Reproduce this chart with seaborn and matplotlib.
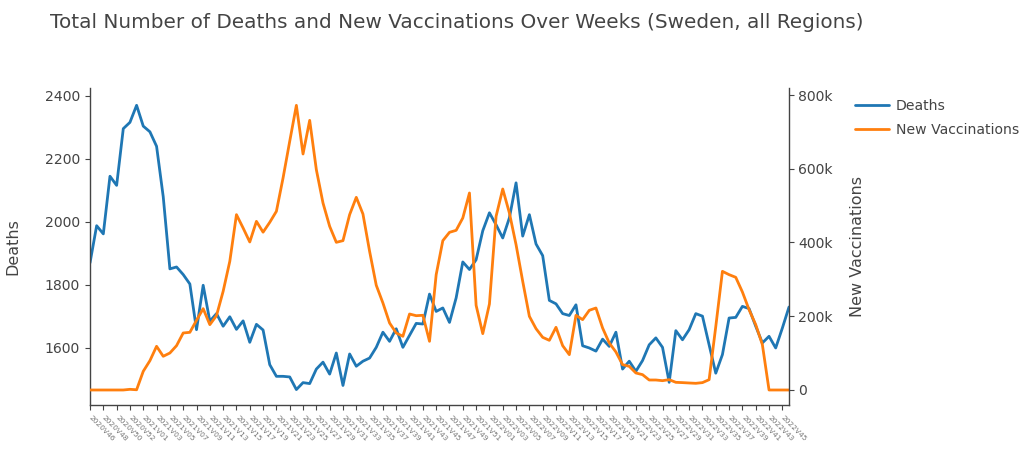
import matplotlib
matplotlib.use("Agg")
import matplotlib.pyplot as plt
import seaborn as sns
import pandas as pd
from matplotlib.ticker import FuncFormatter

# Week labels 2020V46 .. 2022V46 (2020 has week 53)
weeks = ([f"2020V{w:02d}" for w in range(46, 54)]
         + [f"2021V{w:02d}" for w in range(1, 53)]
         + [f"2022V{w:02d}" for w in range(1, 47)])

deaths = [1870, 1988, 1962, 2145, 2116, 2296, 2316, 2370, 2304, 2286,
          2240, 2080, 1851, 1857, 1833, 1803, 1658, 1799, 1685, 1709,
          1669, 1699, 1659, 1686, 1618, 1675, 1657, 1547, 1510, 1510,
          1508, 1468, 1490, 1487, 1533, 1555, 1517, 1584, 1481, 1581,
          1542, 1558, 1568, 1602, 1650, 1621, 1661, 1602, 1640, 1678,
          1676, 1771, 1716, 1727, 1681, 1759, 1873, 1849, 1880, 1972,
          2029, 1991, 1949, 2013, 2124, 1955, 2023, 1930, 1893, 1751,
          1740, 1709, 1703, 1737, 1607, 1600, 1590, 1628, 1605, 1650,
          1533, 1558, 1526, 1560, 1610, 1632, 1602, 1491, 1655, 1626,
          1658, 1709, 1701, 1610, 1520, 1579, 1695, 1697, 1732, 1725,
          1669, 1616, 1637, 1600, 1663, 1730]

vaccinations = [0, 0, 0, 0, 0, 0, 1800, 600, 50700, 79500,
                118500, 91400, 100300, 120200, 154600, 156400, 189000, 220600, 177200, 201600,
                267600, 349000, 475500, 439300, 401400, 457400, 428000, 454700, 484600, 575000,
                674400, 772000, 640000, 731300, 597500, 507100, 443900, 400500, 405000, 475500,
                522500, 477300, 376100, 284000, 236000, 181700, 154600, 145600, 206100, 201500,
                202600, 132000, 312700, 405000, 427600, 433000, 466500, 534300, 229600, 152800,
                233200, 471000, 545100, 480000, 394100, 294700, 199800, 166300, 142800, 134700,
                170000, 120200, 95800, 202500, 190800, 216100, 222400, 168100, 127500, 103100,
                68700, 64200, 46100, 41600, 27100, 27100, 25300, 28000, 20800, 20000,
                19000, 18100, 20000, 28000, 172000, 321800, 312800, 305600, 265800, 217900,
                177200, 123000, 0, 0, 0, 0]

df = pd.DataFrame({"week": weeks, "Deaths": deaths, "New Vaccinations": vaccinations})

sns.set_style("white")
plt.rcParams["font.family"] = ["DejaVu Sans"]
text_col = "#444444"

fig = plt.figure(figsize=(10.23, 4.57), dpi=100)
ax = fig.add_axes([90 / 1023, 1 - 405 / 457, 699 / 1023, 317 / 457])
ax2 = ax.twinx()

sns.lineplot(data=df, x="week", y="Deaths", ax=ax, color="#1f77b4",
             linewidth=2, label="Deaths", sort=False)
sns.lineplot(data=df, x="week", y="New Vaccinations", ax=ax2, color="#ff7f0e",
             linewidth=2, label="New Vaccinations", sort=False)

ax.set_xlim(0, len(weeks) - 1)
ax.set_ylim(1419, 2425)
ax2.set_ylim(-40700, 819000)
ax.set_yticks([1600, 1800, 2000, 2200, 2400])
ax2.set_yticks([0, 200000, 400000, 600000, 800000])
ax2.yaxis.set_major_formatter(FuncFormatter(lambda v, p: "0" if v == 0 else f"{int(v / 1000)}k"))

ticks = list(range(0, len(weeks) - 1, 2))
ax.set_xticks(ticks)
ax.set_xticklabels([weeks[i] for i in ticks], rotation=-45, ha="left", va="center",
                   rotation_mode="anchor", fontsize=5.4, color="#777777")
ax.set_xlabel("")

for a in (ax, ax2):
    for s in a.spines.values():
        s.set_color(text_col)
        s.set_linewidth(1)
    a.spines["top"].set_visible(False)
    a.grid(False)
ax.spines["right"].set_visible(False)
ax2.spines["left"].set_visible(False)
ax2.spines["bottom"].set_visible(False)

ax.tick_params(axis="y", direction="out", length=3.6, width=0.8, color=text_col,
               labelsize=10.1, labelcolor=text_col, pad=3.6, left=True)
ax.tick_params(axis="x", direction="out", length=3.6, width=0.8, color=text_col,
               pad=5, bottom=True)
ax2.tick_params(axis="y", direction="out", length=3.6, width=0.8, color=text_col,
                labelsize=10.1, labelcolor=text_col, pad=3, right=True)

ax.set_ylabel("Deaths", fontsize=11.5, color=text_col)
ax2.set_ylabel("New Vaccinations", fontsize=11.5, color=text_col)
ax.yaxis.set_label_coords(-0.1, 0.5)
ax2.yaxis.set_label_coords(1.087, 0.5)

h1, l1 = ax.get_legend_handles_labels()
h2, l2 = ax2.get_legend_handles_labels()
ax.get_legend().remove()
ax2.get_legend().remove()
fig.legend(h1 + h2, l1 + l2, loc="upper left", bbox_to_anchor=(855 / 1023, 1 - 99 / 457),
           frameon=False, fontsize=10.1, handlelength=2.4, handletextpad=0.5,
           labelspacing=0.68, borderaxespad=0, borderpad=0, labelcolor=text_col)

fig.text(50 / 1023, 1 - 22 / 457,
         "Total Number of Deaths and New Vaccinations Over Weeks (Sweden, all Regions)",
         ha="left", va="center", fontsize=14.4, color=text_col)

fig.savefig("out.png", dpi=100)
